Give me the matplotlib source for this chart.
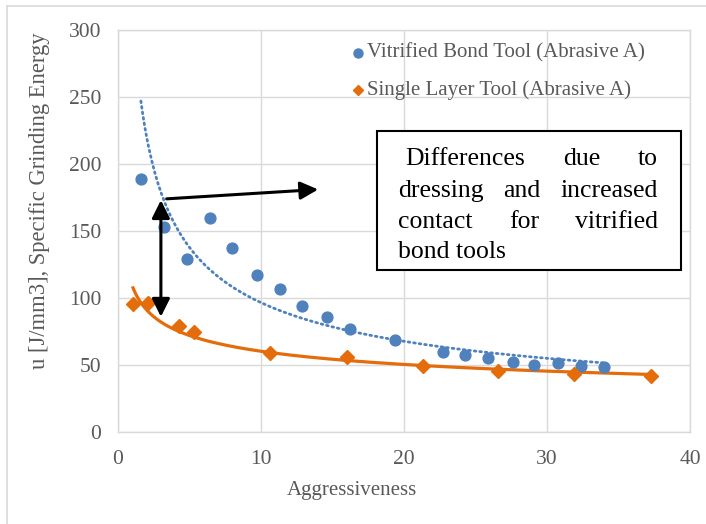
import numpy as np
import matplotlib
matplotlib.use("Agg")
import matplotlib.pyplot as plt
from matplotlib.lines import Line2D

# ---- data ----
vit_x = [1.6, 3.2, 4.8, 6.4, 8.0, 9.7, 11.3, 12.9, 14.6, 16.2, 19.4, 22.7, 24.3, 25.9, 27.6, 29.1, 30.8, 32.4, 34.0]
vit_y = [189, 153, 129, 160, 137, 117, 107, 94, 86, 77, 69, 60, 57.5, 55, 52, 50, 51.5, 49.5, 48.5]
sl_x = [1.05, 2.1, 4.3, 5.3, 10.6, 16.0, 21.3, 26.6, 31.9, 37.3]
sl_y = [95.5, 96.3, 79, 74.6, 59, 56, 49.3, 45.5, 43.3, 41.8]
xticks = [0, 10, 20, 30, 40]
yticks = [0, 50, 100, 150, 200, 250, 300]
labels = ["Vitrified Bond Tool (Abrasive A)", "Single Layer Tool (Abrasive A)"]
box_lines = [["Differences", "due", "to"],
             ["dressing", "and", "increased"],
             ["contact", "for", "vitrified"],
             ["bond tools"]]

BLUE = "#4F81BD"
ORANGE = "#E46C0A"
GRAY = "#595959"
GRID = "#D9D9D9"
FONT = "Liberation Serif"

W, H = 706, 524
fig = plt.figure(figsize=(W / 100, H / 100), dpi=100)

def fx(px):
    return px / W

def fy(py):
    return 1 - py / H

ax = fig.add_axes([fx(118), fy(432), fx(690) - fx(118), fy(30) - fy(432)])
ax.set_xlim(0, 40)
ax.set_ylim(0, 300)
ax.set_xticks(xticks)
ax.set_yticks(yticks)
ax.grid(True, color=GRID, lw=1.0)
ax.set_axisbelow(True)
for s in ax.spines.values():
    s.set_color(GRID)
    s.set_linewidth(1.0)
ax.tick_params(length=0, labelsize=15.5, labelcolor=GRAY)
ax.tick_params(axis="y", pad=12)
ax.tick_params(axis="x", pad=13)
for lab in ax.get_xticklabels() + ax.get_yticklabels():
    lab.set_fontfamily(FONT)

# power trendlines (least squares in log-log space, as Excel does)
def power_fit(x, y):
    b, lna = np.polyfit(np.log(x), np.log(y), 1)
    return np.exp(lna), b

a1, b1 = power_fit(vit_x, vit_y)
a2, b2 = power_fit(sl_x, sl_y)
xx1 = np.linspace(min(vit_x), max(vit_x), 300)
xx2 = np.linspace(min(sl_x), max(sl_x), 300)
ax.plot(xx1, a1 * xx1 ** b1, color=BLUE, lw=2.0, linestyle=(0, (0.6, 1.4)),
        dash_capstyle="round", zorder=2)
ax.plot(xx2, a2 * xx2 ** b2, color=ORANGE, lw=2.3, zorder=2)

ax.plot(vit_x, vit_y, "o", color=BLUE, ms=7.8, mec=BLUE, zorder=3)
ax.plot(sl_x, sl_y, "D", color=ORANGE, ms=6.8, mec=ORANGE, zorder=3)

# arrows
ax.annotate("", xy=(3.0, 173), xytext=(3.0, 86),
            arrowprops=dict(arrowstyle="<|-|>", color="black", lw=2.2,
                            mutation_scale=27, shrinkA=0, shrinkB=0), zorder=5)
ax.annotate("", xy=(14.0, 181), xytext=(3.4, 174),
            arrowprops=dict(arrowstyle="-|>", color="black", lw=2.2,
                            mutation_scale=27, shrinkA=0, shrinkB=0), zorder=5)

# axis labels
fig.text(fx(352), fy(490), "Aggressiveness", ha="center", va="center",
         fontsize=15, color=GRAY, family=FONT)
fig.text(fx(40), fy(201), "u [J/mm3], Specific Grinding Energy", ha="center",
         va="center", rotation=90, fontsize=16.3, color=GRAY, family=FONT)

# legend (manual)
leg_y = [53, 90]
for yy, lab, mk, col, ms in zip(leg_y, labels, ["o", "D"], [BLUE, ORANGE], [6.5, 5.0]):
    fig.add_artist(Line2D([fx(358)], [fy(yy)], marker=mk, color=col, ms=ms,
                          transform=fig.transFigure, linestyle="none"))
    fig.text(fx(367), fy(yy), lab, ha="left", va="center", fontsize=15,
             color=GRAY, family=FONT)

# text box
rect = plt.Rectangle((fx(377), fy(270)), fx(681) - fx(377), fy(131) - fy(270),
                     transform=fig.transFigure, fill=True, facecolor="white",
                     edgecolor="black", lw=1.5, zorder=10)
fig.add_artist(rect)
renderer = fig.canvas.get_renderer()
baselines = [165, 197, 228, 258]
left_edges = [405, 398, 398, 398]
right_edge = 658
for words, bl, le in zip(box_lines, baselines, left_edges):
    texts = [fig.text(0, fy(bl), w, ha="left", va="baseline", fontsize=18.5,
                      color="black", family=FONT, zorder=11) for w in words]
    widths = [t.get_window_extent(renderer).width for t in texts]
    if len(words) == 1:
        texts[0].set_x(fx(le))
    else:
        gap = (right_edge - le - sum(widths)) / (len(words) - 1)
        x = le
        for t, w in zip(texts, widths):
            t.set_x(fx(x))
            x += w + gap

# figure border (left & top only, as cropped in reference)
fig.add_artist(Line2D([fx(7), fx(7)], [fy(6), 0], color=GRID, lw=1.2,
                      transform=fig.transFigure))
fig.add_artist(Line2D([fx(7), 1], [fy(6), fy(6)], color=GRID, lw=1.2,
                      transform=fig.transFigure))

fig.savefig("out.png", dpi=100)
